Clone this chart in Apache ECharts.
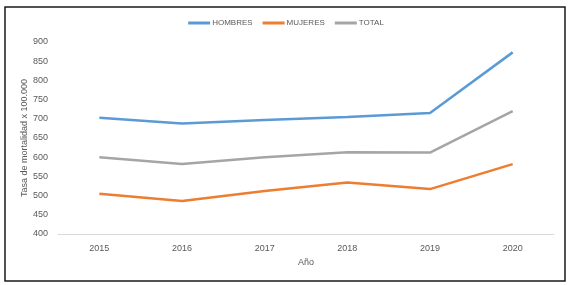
<!DOCTYPE html>
<html>
<head>
<meta charset="utf-8">
<script src="https://cdn.jsdelivr.net/npm/echarts@6/dist/echarts.min.js"></script>
<style>
  html, body { margin: 0; padding: 0; background: #fff; }
  #chart { width: 572px; height: 285px; }
</style>
</head>
<body>
<div id="chart"></div>
<script>
// años y tasas de mortalidad x 100.000
const years = ["2015", "2016", "2017", "2018", "2019", "2020"]
const hombres = [703, 688, 697, 705, 715, 873]
const mujeres = [505, 486, 512, 534, 517, 582]
const total = [600, 582, 600, 613, 612, 720]

const chart = echarts.init(document.getElementById("chart"))
const font = "'Liberation Sans', Arial, sans-serif"

const mkLine = (name, data, color) => ({
  name,
  type: "line",
  data,
  symbol: "none",
  lineStyle: { color, width: 2.5 },
  itemStyle: { color },
})

chart.setOption({
  animation: false,
  graphic: [
    {
      type: "rect",
      shape: { x: 5, y: 7, width: 560, height: 274 },
      style: { fill: "none", stroke: "#1a1a1a", lineWidth: 1.5 },
    },
  ],
  legend: {
    top: 14,
    left: "center",
    itemWidth: 22,
    itemHeight: 3,
    itemGap: 10,
    icon: "rect",
    textStyle: { color: "#595959", fontSize: 8, fontFamily: font, padding: [0, 0, 0, -3] },
    data: ["HOMBRES", "MUJERES", "TOTAL"],
  },
  grid: { left: 58, right: 18, top: 42, bottom: 51 },
  xAxis: {
    type: "category",
    data: years,
    name: "Año",
    nameLocation: "middle",
    nameGap: 24,
    nameTextStyle: { color: "#595959", fontSize: 9, fontFamily: font },
    axisLine: { lineStyle: { color: "#d9d9d9" } },
    axisTick: { show: false },
    axisLabel: { color: "#595959", fontSize: 9, fontFamily: font, margin: 10 },
  },
  yAxis: {
    type: "value",
    min: 400,
    max: 900,
    interval: 50,
    name: "Tasa de mortalidad x 100.000",
    nameLocation: "middle",
    nameGap: 29,
    nameMoveOverlap: false,
    nameTextStyle: { color: "#595959", fontSize: 9, fontFamily: font },
    axisLine: { show: false },
    axisTick: { show: false },
    splitLine: { show: false },
    axisLabel: { color: "#595959", fontSize: 9, fontFamily: font, margin: 10 },
  },
  series: [
    mkLine("HOMBRES", hombres, "#5b9bd5"),
    mkLine("MUJERES", mujeres, "#ed7d31"),
    mkLine("TOTAL", total, "#a5a5a5"),
  ],
})
</script>
</body>
</html>
